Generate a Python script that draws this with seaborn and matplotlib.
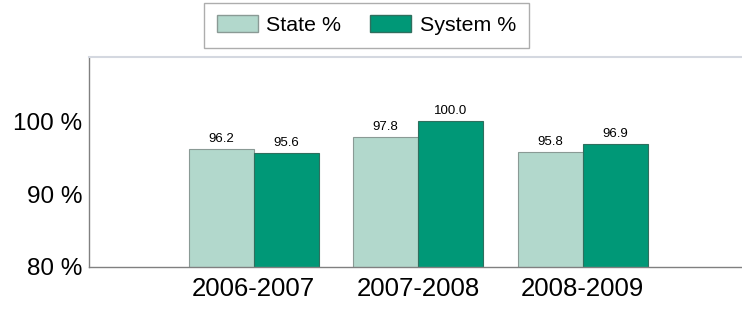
import pandas as pd
import seaborn as sns
import matplotlib.pyplot as plt
from matplotlib.patches import Patch

# data
years = ['2006-2007', '2007-2008', '2008-2009']
state_pct = [96.2, 97.8, 95.8]
system_pct = [95.6, 100.0, 96.9]

df = pd.DataFrame({
    'year': years * 2,
    'value': state_pct + system_pct,
    'series': ['State %'] * 3 + ['System %'] * 3,
})

sns.set_style('white')
plt.rcParams['font.family'] = ['Liberation Sans', 'DejaVu Sans']
plt.rcParams['text.color'] = 'black'
plt.rcParams['xtick.color'] = 'black'
plt.rcParams['ytick.color'] = 'black'

fig = plt.figure(figsize=(7.42, 3.09), dpi=100)
ax = fig.add_axes([0.12, 0.136, 0.885, 0.68])

palette = {'State %': '#b2d8cc', 'System %': '#009877'}
edges = {'State %': '#8a9a95', 'System %': '#2f6f5e'}
sns.barplot(data=df, x='year', y='value', hue='series', palette=palette,
            width=0.79, saturation=1, ax=ax, legend=False)

# bar edges + value labels
for cont, key in zip(ax.containers, ['State %', 'System %']):
    for b in cont:
        b.set_edgecolor(edges[key])
        b.set_linewidth(0.8)
    ax.bar_label(cont, fmt='%.1f', padding=3, fontsize=9.5, color='black')

ax.set_ylim(80, 108.8)
ax.set_xlim(-1.0, 2.99)
ax.set_yticks([80, 90, 100])
ax.set_yticklabels(['80 %', '90 %', '100 %'], fontsize=17.5)
ax.tick_params(axis='x', labelsize=18.5, length=0, pad=7)
ax.tick_params(axis='y', length=0, pad=5)
ax.set_xlabel('')
ax.set_ylabel('')

for s in ['left', 'bottom']:
    ax.spines[s].set_color('#808080')
    ax.spines[s].set_linewidth(1)
ax.spines['top'].set_color('#d4d8e0')
ax.spines['top'].set_linewidth(1.5)
ax.spines['right'].set_visible(False)

# legend
handles = [Patch(facecolor=palette[k], edgecolor=edges[k], label=k)
           for k in ['State %', 'System %']]
fig.legend(handles=handles, loc='center', bbox_to_anchor=(0.494, 0.918), ncol=2,
           fontsize=15.4, frameon=True, fancybox=False, edgecolor='#999999',
           handlelength=1.9, handleheight=0.85, handletextpad=0.4,
           columnspacing=1.35, borderpad=0.6)

fig.savefig('out.png', dpi=100)
